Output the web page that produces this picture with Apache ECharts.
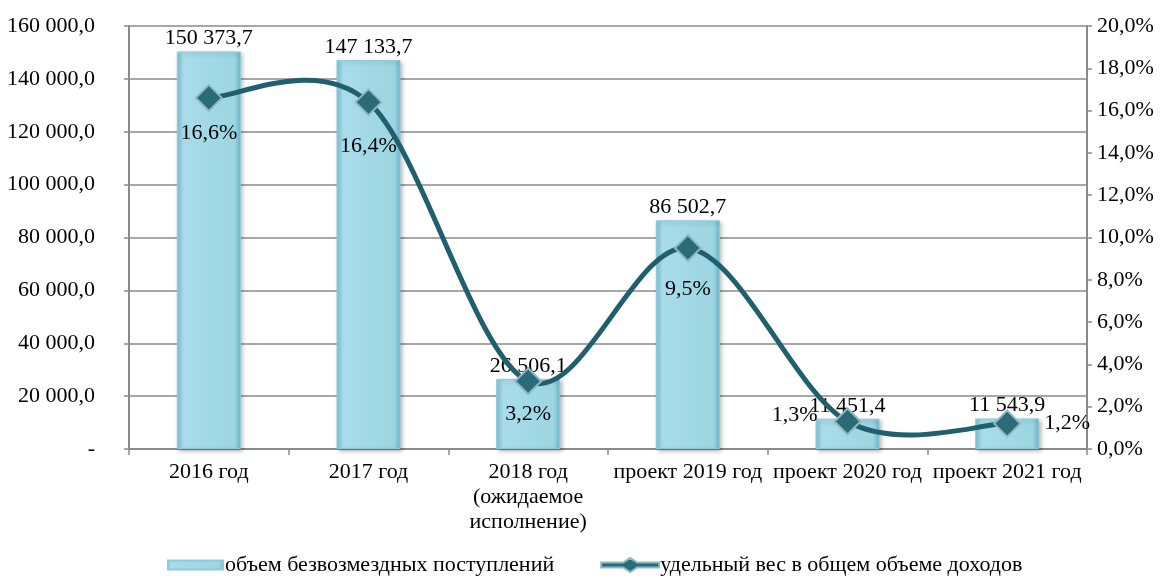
<!DOCTYPE html>
<html>
<head>
<meta charset="utf-8">
<script src="https://cdn.jsdelivr.net/npm/echarts@6/dist/echarts.min.js"></script>
<style>
html,body{margin:0;padding:0;background:#fff;}
#c{width:1165px;height:581px;}
</style>
</head>
<body>
<div id="c"></div>
<script>
const categories = ['2016 год', '2017 год', '2018 год\n(ожидаемое\nисполнение)', 'проект 2019 год', 'проект 2020 год', 'проект 2021 год'];
const grantValues = [150373.7, 147133.7, 26506.1, 86502.7, 11451.4, 11543.9];
const sharePercent = [16.6, 16.4, 3.2, 9.5, 1.3, 1.2];
const shareLabelPos = ['bottom', 'bottom', 'bottom', 'bottom', 'left', 'right'];
const shareLabelDist = [10, 19, 8, 16, 16, 23];
const seriesNames = ['объем безвозмездных поступлений', 'удельный вес в общем объеме доходов'];

const FONT = 'Liberation Serif';
const FS = 22;

function fmtNum(v) {
  if (v === 0) return '-';
  const s = v.toFixed(1);
  const parts = s.split('.');
  const intp = parts[0].replace(/\B(?=(\d{3})+(?!\d))/g, ' ');
  return intp + ',' + parts[1];
}
function fmtPct(v) {
  return v.toFixed(1).replace('.', ',') + '%';
}

const chart = echarts.init(document.getElementById('c'));
const barColor = new echarts.graphic.LinearGradient(0, 0, 1, 0, [
  {offset: 0, color: '#7cc3d6'},
  {offset: 0.1, color: '#a9dcea'},
  {offset: 0.5, color: '#a2d9e7'},
  {offset: 0.9, color: '#9dd5e3'},
  {offset: 1, color: '#6cb4c8'}
]);
const LINE_COLOR = '#1f5f6e';

// Catmull-Rom style smoothing (like spreadsheet smoothed lines), drawn through the axis scale
function renderCurve(params, api) {
  if (params.dataIndex !== 0) return null;
  const pts = sharePercent.map((v, i) => api.coord([i, v]));
  let d = 'M' + pts[0][0] + ' ' + pts[0][1];
  for (let i = 0; i < pts.length - 1; i++) {
    const p0 = pts[i - 1] || pts[i];
    const p1 = pts[i];
    const p2 = pts[i + 1];
    const p3 = pts[i + 2] || pts[i + 1];
    const c1 = [p1[0] + (p2[0] - p0[0]) / 6, p1[1] + (p2[1] - p0[1]) / 6];
    const c2 = [p2[0] - (p3[0] - p1[0]) / 6, p2[1] - (p3[1] - p1[1]) / 6];
    d += ' C' + c1[0] + ' ' + c1[1] + ' ' + c2[0] + ' ' + c2[1] + ' ' + p2[0] + ' ' + p2[1];
  }
  return {
    type: 'path',
    shape: {pathData: d},
    style: {stroke: LINE_COLOR, lineWidth: 5, fill: null}
  };
}

chart.setOption({
  animation: false,
  textStyle: {fontFamily: FONT},
  grid: {left: 129, right: 78, top: 26, bottom: 132},
  legend: {
    bottom: 0,
    left: 160,
    itemWidth: 58,
    itemHeight: 14,
    itemGap: 46,
    textStyle: {fontFamily: FONT, fontSize: FS, color: '#000', padding: [0, 0, 0, -4]},
    data: [
      {name: seriesNames[0], icon: 'path://M0,0L0,0M58,14L58,14M2,2.5H57V11.5H2Z'},
      {name: seriesNames[1], icon: 'path://M0,4.5H22L29,0L36,4.5H58V9.5H36L29,14L22,9.5H0Z', itemStyle: {color: '#2a6b7a'}}
    ]
  },
  xAxis: {
    type: 'category',
    data: categories,
    axisLine: {lineStyle: {color: '#8a8a8a', width: 2}},
    axisTick: {show: true, length: 6, lineStyle: {color: '#8a8a8a', width: 1.5}},
    axisLabel: {fontFamily: FONT, fontSize: FS, color: '#000', margin: 11, lineHeight: 25, interval: 0}
  },
  yAxis: [
    {
      type: 'value', min: 0, max: 160000, interval: 20000,
      axisLine: {show: true, lineStyle: {color: '#8a8a8a', width: 2}},
      axisTick: {show: true, length: 5, lineStyle: {color: '#8a8a8a', width: 1.5}},
      splitLine: {lineStyle: {color: '#8a8a8a', width: 1.5}},
      axisLabel: {fontFamily: FONT, fontSize: FS, color: '#000', margin: 34, formatter: fmtNum}
    },
    {
      type: 'value', min: 0, max: 20, interval: 2,
      axisLine: {show: true, lineStyle: {color: '#8a8a8a', width: 2}},
      axisTick: {show: true, length: 5, lineStyle: {color: '#8a8a8a', width: 1.5}},
      splitLine: {show: false},
      axisLabel: {fontFamily: FONT, fontSize: FS, color: '#000', margin: 10, formatter: fmtPct}
    }
  ],
  series: [
    {
      name: seriesNames[0],
      type: 'bar',
      yAxisIndex: 0,
      barWidth: 64,
      data: grantValues,
      itemStyle: {
        color: barColor,
        borderColor: '#8fcadb',
        borderWidth: 1,
        shadowColor: 'rgba(0,0,0,0.25)',
        shadowBlur: 4,
        shadowOffsetX: 2,
        shadowOffsetY: 2
      },
      label: {
        show: true, position: 'top', distance: 2,
        fontFamily: FONT, fontSize: FS, color: '#000',
        formatter: p => fmtNum(p.value)
      },
      z: 2
    },
    {
      name: '_curve',
      type: 'custom',
      yAxisIndex: 1,
      data: sharePercent,
      renderItem: renderCurve,
      silent: true,
      z: 4
    },
    {
      name: seriesNames[1],
      type: 'line',
      yAxisIndex: 1,
      data: sharePercent.map((v, i) => ({
        value: v,
        label: {
          position: shareLabelPos[i],
          distance: shareLabelDist[i],
          offset: shareLabelPos[i] === 'left' ? [0, -6] : [0, 0]
        }
      })),
      lineStyle: {color: LINE_COLOR, width: 0, opacity: 0},
      symbol: 'diamond',
      symbolSize: 26,
      itemStyle: {color: '#2a6b7a', borderColor: '#8fb8c2', borderWidth: 2},
      label: {
        show: true, fontFamily: FONT, fontSize: FS, color: '#000',
        formatter: p => fmtPct(p.value)
      },
      z: 5
    }
  ]
});
</script>
</body>
</html>
